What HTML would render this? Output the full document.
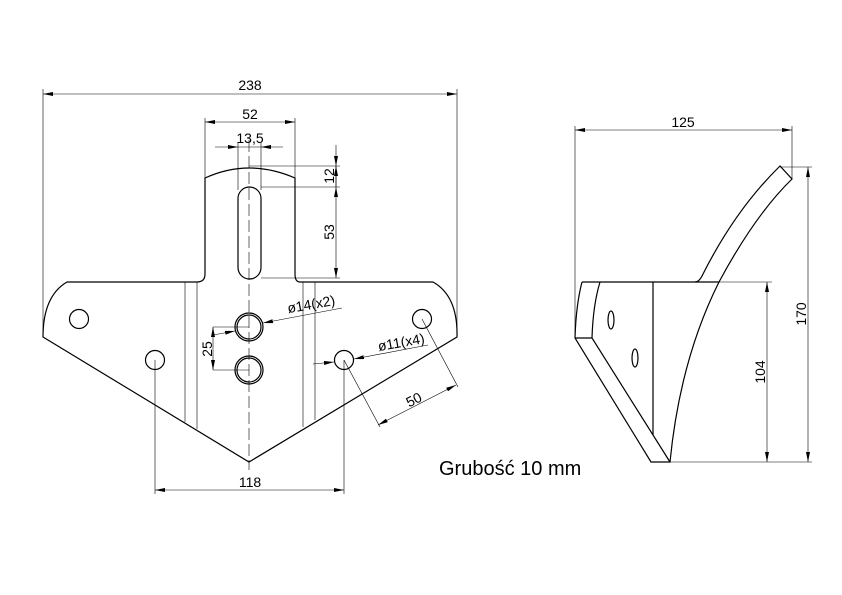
<!DOCTYPE html>
<html><head><meta charset="utf-8"><style>
html,body{margin:0;padding:0;background:#fff;}
svg{display:block;}
text{font-family:"Liberation Sans",sans-serif;fill:#000;}
</style></head><body>
<svg width="842" height="595" viewBox="0 0 842 595" xmlns="http://www.w3.org/2000/svg">
<defs>
<marker id="a" viewBox="0 0 10 4" refX="10" refY="2" markerWidth="10" markerHeight="4" markerUnits="userSpaceOnUse" orient="auto-start-reverse"><path d="M0,0 L10,2 L0,4 z" fill="#000"/></marker>
</defs>
<g fill="none" stroke="#000" stroke-width="0.6">
<line x1="43" y1="94" x2="457" y2="94" marker-start="url(#a)" marker-end="url(#a)"/>
<line x1="43" y1="89" x2="43" y2="337"/>
<line x1="457" y1="89" x2="457" y2="337"/>
<line x1="205" y1="122" x2="295" y2="122" marker-start="url(#a)" marker-end="url(#a)"/>
<line x1="205" y1="118" x2="205" y2="180"/>
<line x1="295" y1="118" x2="295" y2="180"/>
<line x1="215" y1="147" x2="238" y2="147" marker-end="url(#a)"/>
<line x1="283" y1="147" x2="261" y2="147" marker-end="url(#a)"/>
<line x1="238" y1="147" x2="261" y2="147"/>
<line x1="238" y1="143" x2="238" y2="190"/>
<line x1="261" y1="143" x2="261" y2="190"/>
<line x1="336" y1="145" x2="336" y2="166" marker-end="url(#a)"/>
<line x1="336" y1="166" x2="336" y2="187"/>
<line x1="336" y1="187" x2="336" y2="278" marker-start="url(#a)" marker-end="url(#a)"/>
<line x1="336" y1="187" x2="336" y2="166" marker-end="url(#a)"/>
<line x1="249" y1="166" x2="340" y2="166"/>
<line x1="261" y1="187" x2="340" y2="187"/>
<line x1="261" y1="278" x2="340" y2="278"/>
<line x1="249" y1="140" x2="249" y2="470" stroke-dasharray="12,4"/>
<line x1="185" y1="282" x2="185" y2="422"/>
<line x1="197" y1="282" x2="197" y2="429"/>
<line x1="303" y1="282" x2="303" y2="427"/>
<line x1="315" y1="282" x2="315" y2="420"/>
<line x1="213" y1="327" x2="213" y2="370" marker-start="url(#a)" marker-end="url(#a)"/>
<line x1="213" y1="327" x2="249" y2="327"/>
<line x1="213" y1="370" x2="249" y2="370"/>
<line x1="213" y1="335" x2="235" y2="331" marker-end="url(#a)"/>
<line x1="342" y1="308" x2="263" y2="323" marker-end="url(#a)"/>
<line x1="313" y1="364" x2="334" y2="362" marker-end="url(#a)"/>
<line x1="428" y1="345" x2="354" y2="359" marker-end="url(#a)"/>
<line x1="344" y1="360" x2="380" y2="427"/>
<line x1="422" y1="319" x2="458" y2="387"/>
<line x1="378" y1="425" x2="456" y2="385" marker-start="url(#a)" marker-end="url(#a)"/>
<line x1="155" y1="360" x2="155" y2="494"/>
<line x1="344" y1="360" x2="344" y2="494"/>
<line x1="155" y1="490" x2="344" y2="490" marker-start="url(#a)" marker-end="url(#a)"/>
<line x1="575" y1="130" x2="792" y2="130" marker-start="url(#a)" marker-end="url(#a)"/>
<line x1="575" y1="126" x2="575" y2="338"/>
<line x1="792" y1="126" x2="792" y2="179"/>
<line x1="767" y1="282" x2="767" y2="462" marker-start="url(#a)" marker-end="url(#a)"/>
<line x1="718" y1="282" x2="772" y2="282"/>
<line x1="670" y1="462" x2="812" y2="462"/>
<line x1="808" y1="167" x2="808" y2="462" marker-start="url(#a)" marker-end="url(#a)"/>
<line x1="780" y1="167" x2="812" y2="167"/>
</g>
<g fill="none" stroke="#000" stroke-width="1.2">
<path d="M43,337 L249,462 L457,337 Q458,296 433,282 L300,282 Q295,282 295,274 L295,178 Q249,158 205,178 L205,274 Q205,282 197,282 L67,282 Q43,296 43,337 Z"/>
<rect x="238" y="187" width="23" height="92" rx="11.5" ry="11.5"/>
<circle cx="249" cy="327" r="14"/><circle cx="249" cy="327" r="12"/>
<circle cx="249" cy="370" r="14"/><circle cx="249" cy="370" r="12"/>
<circle cx="79" cy="319" r="9.5"/>
<circle cx="155" cy="360" r="9.5"/>
<circle cx="344" cy="360" r="9.5"/>
<circle cx="422" cy="319" r="9.5"/>
<path d="M582,282 L695,282 Q699,282 702,276 Q735,210 780,166 L792,179 Q755,215 719,282"/>
<path d="M695,282 L719,282 Q680,360 670,462 L651,462 L575,338 Q576,305 582,282"/>
<path d="M600,282 Q593,305 592,338 L670,462"/>
<line x1="575" y1="338" x2="592" y2="338"/>
<line x1="653" y1="282" x2="653" y2="435"/>
<ellipse cx="611" cy="320" rx="3" ry="9"/>
<ellipse cx="635" cy="358" rx="3" ry="9"/>
</g>
<g font-size="14">
<text x="250" y="90" text-anchor="middle">238</text>
<text x="250" y="119" text-anchor="middle">52</text>
<text x="250" y="143" text-anchor="middle">13,5</text>
<text transform="translate(334,176) rotate(-90)" text-anchor="middle">12</text>
<text transform="translate(334,232) rotate(-90)" text-anchor="middle">53</text>
<text transform="translate(212,349) rotate(-90)" text-anchor="middle">25</text>
<text transform="translate(312,309) rotate(-10)" text-anchor="middle">ø14(x2)</text>
<text transform="translate(402,347) rotate(-10)" text-anchor="middle">ø11(x4)</text>
<text transform="translate(416,404) rotate(-27)" text-anchor="middle">50</text>
<text x="250" y="487" text-anchor="middle">118</text>
<text x="683" y="127" text-anchor="middle">125</text>
<text transform="translate(765,372) rotate(-90)" text-anchor="middle">104</text>
<text transform="translate(806,314) rotate(-90)" text-anchor="middle">170</text>
</g>
<text x="439" y="475" font-size="20">Grubość 10 mm</text>
</svg>
</body></html>
